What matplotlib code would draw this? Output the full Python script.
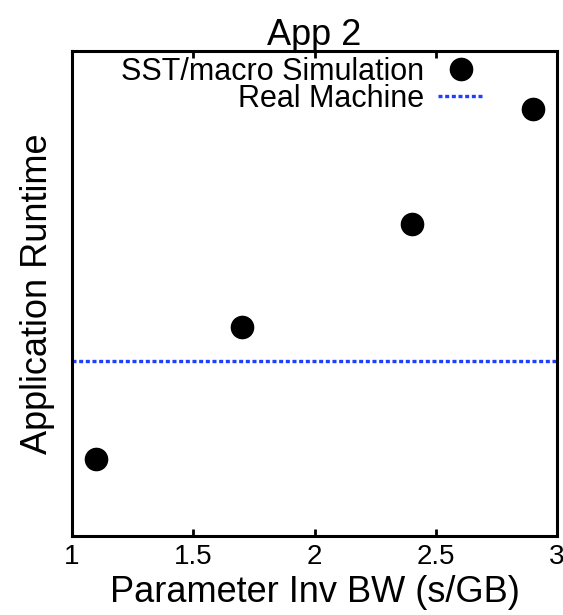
import matplotlib
matplotlib.use("Agg")
import matplotlib.pyplot as plt

plt.rcParams['font.family'] = ['Liberation Sans', 'DejaVu Sans']

# data (runtime in relative units, no y scale on the original)
inv_bw = [1.1, 1.7, 2.4, 2.9]
sim_runtime = [0.159, 0.431, 0.643, 0.880]
real_runtime = 0.361

fig = plt.figure(figsize=(5.63, 6.15), dpi=100)
ax = fig.add_axes([72 / 563, 1 - 536 / 615, 485 / 563, 485 / 615])

ax.plot(inv_bw, sim_runtime, 'o', color='black', markersize=16,
        label='SST/macro Simulation')
ax.axhline(real_runtime, color='#1f3fff', linestyle=(0, (1.2, 0.8)), linewidth=2.4,
           label='Real Machine')

ax.set_xlim(1, 3)
ax.set_ylim(0, 1)
ax.set_xticks([1, 1.5, 2, 2.5, 3])
ax.set_xticklabels(['1', '1.5', '2', '2.5', '3'])
ax.set_yticks([])
ax.tick_params(axis='x', direction='in', top=True, length=5, width=2, labelsize=20, pad=6)
for s in ax.spines.values():
    s.set_linewidth(2.2)

ax.set_title('App 2', fontsize=26, pad=4)
ax.set_xlabel('Parameter Inv BW (s/GB)', fontsize=26, labelpad=3)
ax.set_ylabel('Application Runtime', fontsize=26, labelpad=12)

ax.legend(loc='upper right', markerfirst=False, frameon=False, fontsize=22,
          handlelength=1.5, handletextpad=0.45, borderpad=0, borderaxespad=0,
          labelspacing=-0.1, bbox_to_anchor=(0.849, 0.988))

fig.savefig('out.png', dpi=100)
